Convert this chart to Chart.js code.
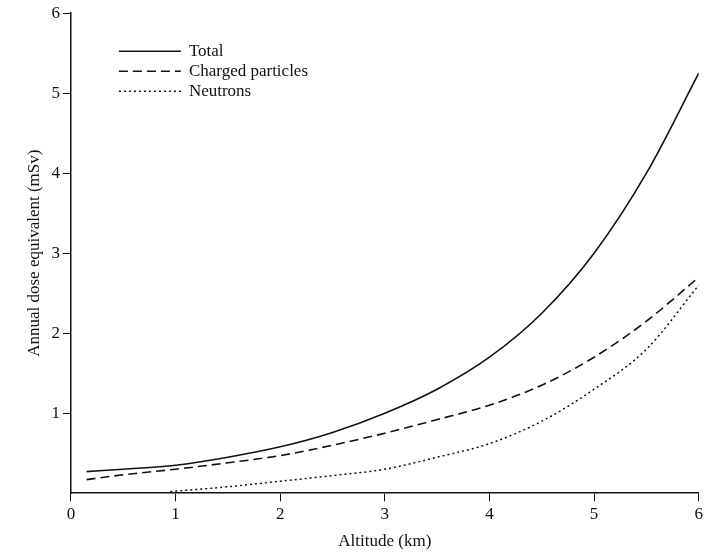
<!DOCTYPE html>
<html>
<head>
<script src="https://cdn.jsdelivr.net/npm/chart.js@4"></script>
<style>
body { margin: 0; background: #fff; }
#wrap { width: 706px; height: 556px; }
</style>
</head>
<body>
<div id="wrap"><canvas id="c"></canvas></div>
<script>
const totalX = [0.15, 0.5, 1, 1.5, 2, 2.5, 3, 3.5, 4, 4.5, 5, 5.5, 6];
const totalY = [0.27, 0.3, 0.35, 0.45, 0.58, 0.76, 1.0, 1.3, 1.7, 2.25, 3.0, 4.0, 5.25];
const chargedX = [0.15, 0.5, 1, 1.5, 2, 2.5, 3, 3.5, 4, 4.5, 5, 5.5, 6];
const chargedY = [0.17, 0.23, 0.3, 0.38, 0.47, 0.6, 0.75, 0.92, 1.1, 1.35, 1.7, 2.15, 2.7];
const neutronX = [0.95, 1.5, 2, 2.5, 3, 3.5, 4, 4.5, 5, 5.5, 6];
const neutronY = [0.02, 0.08, 0.15, 0.22, 0.3, 0.45, 0.62, 0.9, 1.3, 1.8, 2.6];
const xTicks = [0, 1, 2, 3, 4, 5, 6];
const yTicks = [1, 2, 3, 4, 5, 6];

const pts = (xs, ys) => xs.map((x, i) => ({ x: x, y: ys[i] }));
const font = 'Liberation Serif';

const legendPlugin = {
    id: 'inlineLegend',
    afterDraw(chart) {
        const ctx = chart.ctx;
        const left = chart.chartArea.left + 48;
        let top = chart.chartArea.top + 38;
        ctx.save();
        ctx.font = '17px "' + font + '"';
        ctx.textBaseline = 'middle';
        chart.data.datasets.forEach(ds => {
            ctx.beginPath();
            ctx.strokeStyle = '#111';
            ctx.lineWidth = ds.borderWidth;
            ctx.setLineDash(ds.borderDash || []);
            ctx.moveTo(left, top);
            ctx.lineTo(left + 62, top);
            ctx.stroke();
            ctx.setLineDash([]);
            ctx.fillStyle = '#111';
            ctx.fillText(ds.label, left + 70, top);
            top += 20;
        });
        ctx.restore();
    }
};

new Chart(document.getElementById('c'), {
    type: 'line',
    data: {
        datasets: [{
            label: 'Total',
            data: pts(totalX, totalY),
            borderColor: '#111',
            borderWidth: 1.6,
            pointRadius: 0,
            cubicInterpolationMode: 'monotone'
        }, {
            label: 'Charged particles',
            data: pts(chargedX, chargedY),
            borderColor: '#111',
            borderWidth: 1.6,
            borderDash: [9, 5],
            pointRadius: 0,
            cubicInterpolationMode: 'monotone'
        }, {
            label: 'Neutrons',
            data: pts(neutronX, neutronY),
            borderColor: '#111',
            borderWidth: 1.5,
            borderDash: [2, 3],
            pointRadius: 0,
            cubicInterpolationMode: 'monotone'
        }]
    },
    options: {
        responsive: true,
        maintainAspectRatio: false,
        animation: false,
        layout: { padding: { top: 10, right: 0, left: 20, bottom: 0 } },
        plugins: {
            legend: { display: false },
            tooltip: { enabled: false }
        },
        scales: {
            x: {
                type: 'linear',
                min: 0,
                max: 6,
                afterBuildTicks: axis => { axis.ticks = xTicks.map(v => ({ value: v })); },
                grid: { drawOnChartArea: false, color: '#111', tickLength: 8 },
                border: { color: '#111', width: 1.5 },
                ticks: { color: '#111', font: { family: font, size: 17 } },
                title: { display: true, text: 'Altitude (km)', color: '#111', font: { family: font, size: 17 } }
            },
            y: {
                min: 0,
                max: 6,
                afterBuildTicks: axis => { axis.ticks = yTicks.map(v => ({ value: v })); },
                grid: { drawOnChartArea: false, color: '#111', tickLength: 8 },
                border: { color: '#111', width: 1.5 },
                ticks: { color: '#111', font: { family: font, size: 17 } },
                title: { display: true, text: 'Annual dose equivalent (mSv)', color: '#111', font: { family: font, size: 17 } }
            }
        }
    },
    plugins: [legendPlugin]
});
</script>
</body>
</html>
